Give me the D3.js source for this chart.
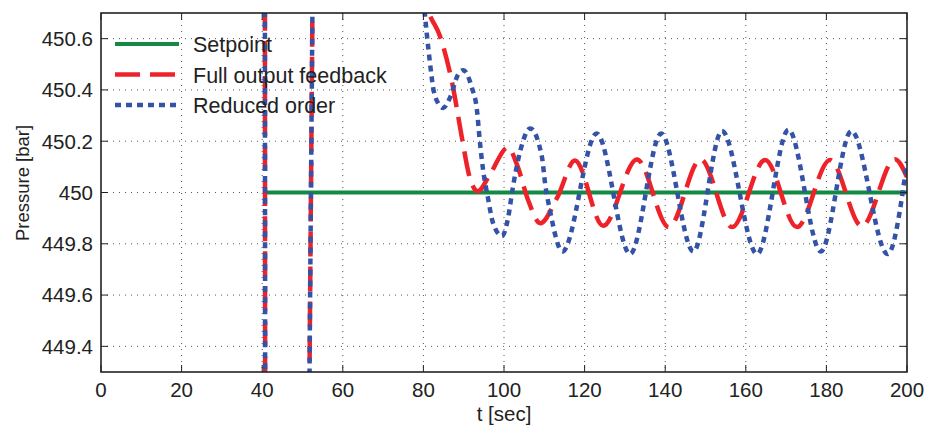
<!DOCTYPE html>
<html>
<head>
<meta charset="utf-8">
<script src="https://cdn.jsdelivr.net/npm/d3@7"></script>
<style>
  body { margin: 0; background: #fff; }
  svg text { font-family: "Liberation Sans", Arial, sans-serif; fill: #222; }
</style>
</head>
<body>
<svg id="chart" width="928" height="432"></svg>
<script>
"use strict";

// ---- data ----
const xTicks = [0, 20, 40, 60, 80, 100, 120, 140, 160, 180, 200];
const yTicks = [449.4, 449.6, 449.8, 450, 450.2, 450.4, 450.6];
const yTickLabels = ["449.4", "449.6", "449.8", "450", "450.2", "450.4", "450.6"];

const seriesNames = ["Setpoint", "Full output feedback", "Reduced order"];

const setpointT = [40.5, 200];
const setpointP = [450, 450];

// off-scale values (448 / 452) are outside the visible window
const fullT = [0, 40.6, 40.8, 51.2, 51.7, 52.5, 53, 70, 78, 81.4, 84.1, 87.1, 89.6, 91.3, 93.5,
  96.5, 101, 103.2, 106, 109, 113.2, 117.6, 124.6, 133, 140.9, 148.8, 156.6, 164.8, 172.7, 180.9, 188.8, 197, 200];
const fullP = [452, 452, 448, 448, 449.2, 450.8, 452, 451.6, 450.9, 450.7, 450.61, 450.43, 450.21, 450.07, 450.005,
  450.07, 450.176, 450.11, 449.97, 449.88, 449.98, 450.125, 449.87, 450.129, 449.865, 450.129, 449.865, 450.127, 449.865, 450.127, 449.868, 450.13, 450.06];

const reducedT = [0, 40.6, 40.8, 51.2, 51.7, 52.5, 53, 70, 78, 80.4, 80.9, 81.6, 82.4, 83.6, 84.9, 86.6, 88.6, 89.9,
  92, 93.3, 94, 94.8, 96, 97.3, 99.5, 101, 102.2, 104, 106.5, 109.4, 110.2, 111.4, 114.5,
  123, 131.3, 139, 147, 154.1, 162.8, 170.6, 178.6, 186.2, 195.2, 200];
const reducedP = [452, 452, 448, 448, 449.2, 450.8, 452, 452, 451.3, 450.69, 450.61, 450.51, 450.41, 450.35, 450.33, 450.37, 450.46, 450.477,
  450.41, 450.32, 450.2, 450.09, 449.98, 449.88, 449.83, 449.9, 450.02, 450.16, 450.25, 450.14, 450.035, 449.93, 449.77,
  450.23, 449.76, 450.23, 449.77, 450.24, 449.76, 450.245, 449.77, 450.24, 449.76, 450.12];

// ---- layout ----
const svg = d3.select("#chart");
const margin = { left: 101, right: 21, top: 13, bottom: 60 };
const W = 928 - margin.left - margin.right;
const H = 432 - margin.top - margin.bottom;

const x = d3.scaleLinear().domain([0, 200]).range([0, W]);
const y = d3.scaleLinear().domain([449.3, 450.7]).range([H, 0]);

const g = svg.append("g").attr("transform", `translate(${margin.left},${margin.top})`);

svg.append("defs").append("clipPath").attr("id", "plotclip")
  .append("rect").attr("width", W).attr("height", H);

// grid
g.append("g").selectAll("line").data(xTicks.slice(1, -1)).enter().append("line")
  .attr("x1", d => x(d)).attr("x2", d => x(d)).attr("y1", 0).attr("y2", H)
  .style("stroke", "#555").style("stroke-width", 1).style("stroke-dasharray", "1,5");
g.append("g").selectAll("line").data(yTicks).enter().append("line")
  .attr("y1", d => y(d)).attr("y2", d => y(d)).attr("x1", 0).attr("x2", W)
  .style("stroke", "#555").style("stroke-width", 1).style("stroke-dasharray", "1,5");

// legend (under the lines, no box)
const styles = [
  { color: "#138a43", dash: null, width: 4 },
  { color: "#ee2229", dash: "25,10", width: 4.5 },
  { color: "#3453a6", dash: "6,5", width: 4.5 }
];
const legend = svg.append("g");
seriesNames.forEach(function(name, i) {
  const ly = 44 + i * 30.5;
  legend.append("line")
    .attr("x1", 115).attr("x2", 179).attr("y1", ly).attr("y2", ly)
    .style("stroke", styles[i].color).style("stroke-width", styles[i].width)
    .style("stroke-dasharray", styles[i].dash);
  legend.append("text")
    .attr("x", 193).attr("y", ly + 8).style("font-size", "21.5px").text(name);
});

// series
const line = d3.line().x(d => x(d[0])).y(d => y(d[1])).curve(d3.curveMonotoneX);
const plot = g.append("g").attr("clip-path", "url(#plotclip)");
[[setpointT, setpointP], [fullT, fullP], [reducedT, reducedP]].forEach(function(s, i) {
  plot.append("path")
    .datum(d3.zip(s[0], s[1]))
    .attr("d", line)
    .style("fill", "none")
    .style("stroke", styles[i].color)
    .style("stroke-width", styles[i].width)
    .style("stroke-dasharray", styles[i].dash);
});

// axes box + inward ticks on all sides
const tickLen = 7;
const ax = g.append("g").style("stroke", "#222").style("stroke-width", 1);
ax.selectAll(".xt").data(xTicks).enter().append("path")
  .attr("d", d => `M${x(d)},${H}v${-tickLen}M${x(d)},0v${tickLen}`);
ax.selectAll(".yt").data(yTicks).enter().append("path")
  .attr("d", d => `M0,${y(d)}h${tickLen}M${W},${y(d)}h${-tickLen}`);
g.append("rect").attr("width", W).attr("height", H)
  .style("fill", "none").style("stroke", "#222").style("stroke-width", 1.6);

// tick labels
g.append("g").selectAll("text").data(xTicks).enter().append("text")
  .attr("x", d => x(d)).attr("y", H + 25)
  .attr("text-anchor", "middle").style("font-size", "20.5px")
  .text(d => d);
g.append("g").selectAll("text").data(yTicks).enter().append("text")
  .attr("x", -8).attr("y", d => y(d)).attr("dy", "0.36em")
  .attr("text-anchor", "end").style("font-size", "20.5px")
  .text((d, i) => yTickLabels[i]);

// axis titles
svg.append("text")
  .attr("x", margin.left + W / 2).attr("y", 421)
  .attr("text-anchor", "middle").style("font-size", "20.5px")
  .text("t [sec]");
svg.append("text")
  .attr("transform", "translate(29,183) rotate(-90)")
  .attr("text-anchor", "middle").style("font-size", "18.5px")
  .text("Pressure [bar]");
</script>
</body>
</html>
